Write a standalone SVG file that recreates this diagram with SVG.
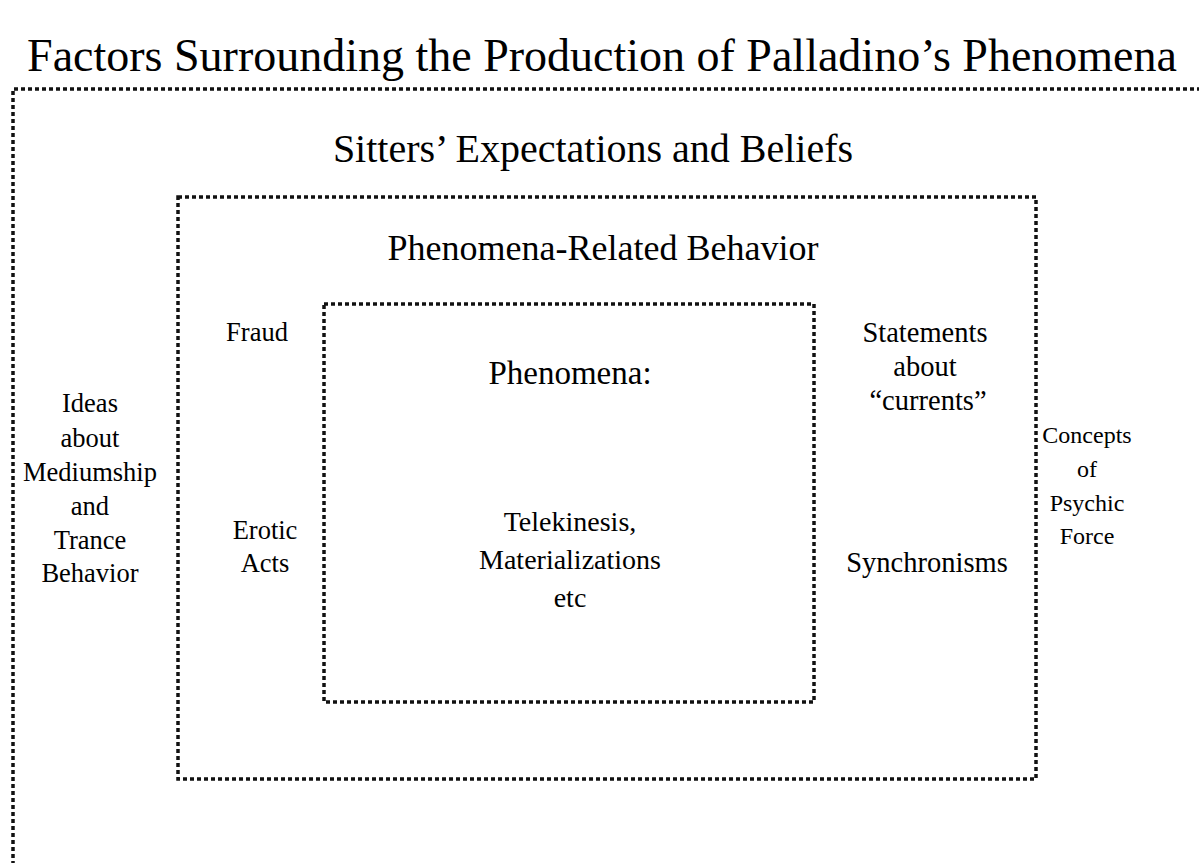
<svg xmlns="http://www.w3.org/2000/svg" width="1199" height="863" viewBox="0 0 1199 863">
<style>
.box{fill:none;stroke:#111;stroke-width:3.5;stroke-dasharray:4 3;stroke-linecap:butt}
text{font-family:"Liberation Serif","Times New Roman",serif;fill:#000;text-anchor:middle}
.t1{font-size:46px}
.t2{font-size:40px}
.t2b{font-size:36px}
.t3{font-size:33px}
.t4{font-size:28px}
.lb{font-size:26.5px}
.rb{font-size:28.5px}
.cb{font-size:24px}
</style>
<rect width="1199" height="863" fill="#fff"/>
<text class="t1" x="602" y="71">Factors Surrounding the Production of Palladino’s Phenomena</text>
<g id="outer">
<path class="box" d="M13 865 V89 H1202"/>
<text class="t2" x="593" y="162">Sitters’ Expectations and Beliefs</text>
</g>
<g id="behavior">
<rect class="box" x="178" y="197" width="858" height="582"/>
<text class="t2b" x="603" y="260">Phenomena-Related Behavior</text>
</g>
<g id="phenomena">
<rect class="box" x="324" y="304" width="490" height="398"/>
<text class="t3" x="570" y="384">Phenomena:</text>
<text class="t4"><tspan x="570" y="531">Telekinesis,</tspan><tspan x="570" y="569">Materializations</tspan><tspan x="570" y="607">etc</tspan></text>
</g>
<g id="ideas">
<text class="lb"><tspan x="90" y="412">Ideas</tspan><tspan x="90" y="447">about</tspan><tspan x="90" y="481">Mediumship</tspan><tspan x="90" y="515">and</tspan><tspan x="90" y="549">Trance</tspan><tspan x="90" y="582">Behavior</tspan></text>
</g>
<g id="fraud"><text class="lb" x="257" y="341">Fraud</text></g>
<g id="erotic"><text class="lb"><tspan x="265" y="539">Erotic</tspan><tspan x="265" y="572">Acts</tspan></text></g>
<g id="statements"><text class="rb"><tspan x="925" y="342">Statements</tspan><tspan x="925" y="376">about</tspan><tspan x="928" y="410">“currents”</tspan></text></g>
<g id="synchronisms"><text class="rb" x="927" y="572">Synchronisms</text></g>
<g id="concepts"><text class="cb"><tspan x="1087" y="443">Concepts</tspan><tspan x="1087" y="477">of</tspan><tspan x="1087" y="511">Psychic</tspan><tspan x="1087" y="544">Force</tspan></text></g>
<g id="connectors"/>
</svg>
